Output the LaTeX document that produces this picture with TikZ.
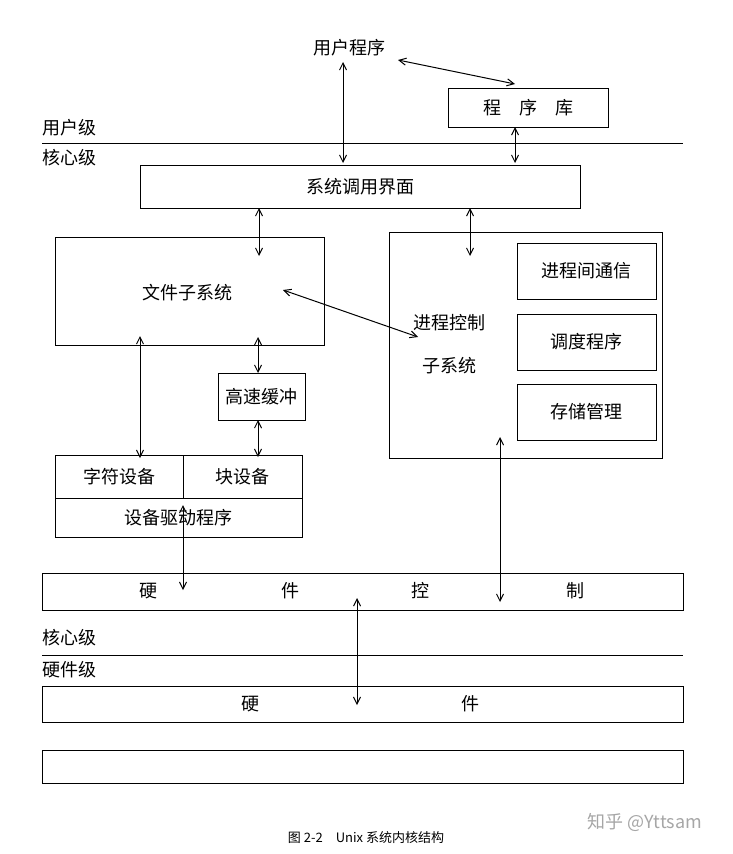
\documentclass[tikz,border=0pt]{standalone}
\usepackage{fontspec}
\newfontfamily\cjk{Noto Sans CJK SC}
\usetikzlibrary{arrows.meta}
\tikzset{%
   box/.style={draw=black, line width=0.8pt},
   lbl/.style={font=\cjk\fontsize{18}{20}\selectfont, inner sep=1pt},
   lvl/.style={lbl, anchor=west},
   dbl/.style={{Straight Barb[length=7pt,width=7pt]}-{Straight Barb[length=7pt,width=7pt]}, line width=1pt},
}
\begin{document}
\begin{tikzpicture}[x=1pt, y=-1pt]
   \useasboundingbox (0,0) rectangle (732,854);
   % levels
   \draw[line width=0.6pt] (42,143) -- (683,143);
   \draw[line width=0.6pt] (42,655) -- (683,655);
   \node[lvl] (uL) at (41,128) {用户级};
   \node[lvl] (kL1) at (41,158) {核心级};
   \node[lvl] (kL2) at (41,638) {核心级};
   \node[lvl] (hL) at (41,670) {硬件级};
   % boxes
   \node[lbl] (up) at (349,48) {用户程序};
   \draw[box] (448,88) rectangle (608,127);
   \node[lbl] (lib) at (528,108) {程\quad 序\quad 库};
   \draw[box] (140,165) rectangle (580,208);
   \node[lbl] (sci) at (360,187) {系统调用界面};
   \draw[box] (55,237) rectangle (324,345);
   \node[lbl] (fs) at (187,293) {文件子系统};
   \draw[box] (389,232) rectangle (662,458);
   \node[lbl] (pc1) at (449,323) {进程控制};
   \node[lbl] (pc2) at (449,366) {子系统};
   \draw[box] (517,243) rectangle (656,299);
   \node[lbl] (ipc) at (586,271) {进程间通信};
   \draw[box] (517,314) rectangle (656,370);
   \node[lbl] (sch) at (586,342) {调度程序};
   \draw[box] (517,384) rectangle (656,440);
   \node[lbl] (mem) at (586,412) {存储管理};
   \draw[box] (218,373) rectangle (305,420);
   \node[lbl] (buf) at (261,397) {高速缓冲};
   \draw[box] (55,455) rectangle (302,537);
   \draw[box] (55,498) -- (302,498);
   \draw[box] (183,455) -- (183,498);
   \node[lbl] (chr) at (119,477) {字符设备};
   \node[lbl] (blk) at (242,477) {块设备};
   \node[lbl] (drv) at (178,518) {设备驱动程序};
   \draw[box] (42,573) rectangle (683,610);
   \node[lbl] at (148,591) {硬};
   \node[lbl] at (290,591) {件};
   \node[lbl] at (420,591) {控};
   \node[lbl] at (575,591) {制};
   \draw[box] (42,686) rectangle (683,722);
   \node[lbl] at (250,704) {硬};
   \node[lbl] at (470,704) {件};
   \draw[box] (42,750) rectangle (683,783);
   % arrow ends
   \coordinate (a1) at (343,62);  \coordinate (b1) at (343,163);
   \coordinate (a2) at (398,60);  \coordinate (b2) at (515,84);
   \coordinate (a3) at (515,127); \coordinate (b3) at (515,163);
   \coordinate (a4) at (259,208); \coordinate (b4) at (259,256);
   \coordinate (a5) at (470,208); \coordinate (b5) at (470,256);
   \coordinate (a6) at (283,290); \coordinate (b6) at (418,337);
   \coordinate (a7) at (140,336); \coordinate (b7) at (140,458);
   \coordinate (a8) at (258,337); \coordinate (b8) at (258,373);
   \coordinate (a9) at (258,420); \coordinate (b9) at (258,457);
   \coordinate (a10) at (183,505); \coordinate (b10) at (183,590);
   \coordinate (a11) at (500,437); \coordinate (b11) at (500,602);
   \coordinate (a12) at (357,598); \coordinate (b12) at (357,705);
   \foreach \i in {1,...,12} \draw[dbl] (a\i) -- (b\i);
   % caption
   \node[font=\cjk\fontsize{13}{15}\selectfont] (cap) at (366,838) {图 2-2\quad Unix 系统内核结构};
   \node[font=\cjk\fontsize{18}{20}\selectfont, text=black!35] (wm) at (645,822) {知乎 @Yttsam};
\end{tikzpicture}
\end{document}
